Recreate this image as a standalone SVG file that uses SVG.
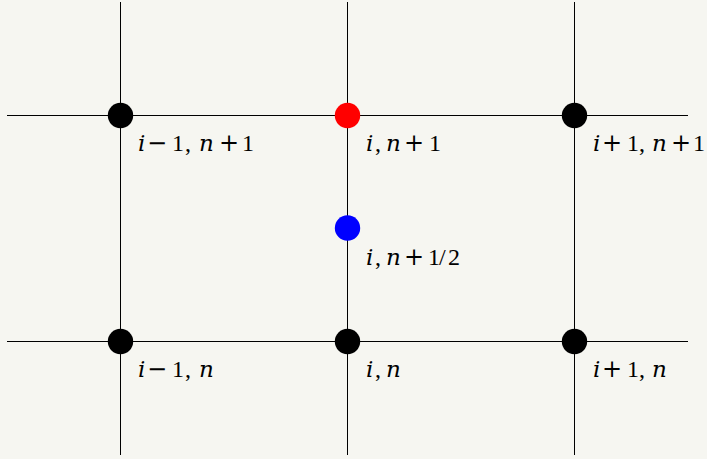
<svg xmlns="http://www.w3.org/2000/svg" width="707" height="459" viewBox="0 0 707 459">
<style>
.ln{stroke:#000;stroke-width:1;fill:none}
.dot{stroke:none}
.lbl{font-family:"Liberation Serif","DejaVu Serif",serif;font-size:24px;fill:#000}
.it{font-family:"DejaVu Serif","Liberation Serif",serif;font-style:italic;font-size:23px}
.op{font-family:"DejaVu Serif","Liberation Serif",serif;font-size:24px}
</style>
<rect width="707" height="459" fill="#f6f6f1"/>
<g id="connectors">
<line class="ln" x1="120.5" y1="2" x2="120.5" y2="455"/>
<line class="ln" x1="347.5" y1="2" x2="347.5" y2="455"/>
<line class="ln" x1="574.5" y1="2" x2="574.5" y2="455"/>
<line class="ln" x1="7" y1="115.5" x2="688" y2="115.5"/>
<line class="ln" x1="7" y1="341.5" x2="688" y2="341.5"/>
</g>
<g id="n-im1-np1"><circle class="dot" cx="120.5" cy="115.5" r="12.7" fill="#000"/><text class="lbl" y="151"><tspan class="it" x="138">i</tspan><tspan class="op" x="147">−</tspan><tspan x="172">1</tspan><tspan x="185">,</tspan><tspan class="it" x="199">n</tspan><tspan class="op" x="219">+</tspan><tspan x="242">1</tspan></text></g>
<g id="n-i-np1"><circle class="dot" cx="347.5" cy="115.5" r="12.7" fill="#ff0000"/><text class="lbl" y="151"><tspan class="it" x="366">i</tspan><tspan x="375">,</tspan><tspan class="it" x="386">n</tspan><tspan class="op" x="404">+</tspan><tspan x="429">1</tspan></text></g>
<g id="n-ip1-np1"><circle class="dot" cx="574.5" cy="115.5" r="12.7" fill="#000"/><text class="lbl" y="151"><tspan class="it" x="593">i</tspan><tspan class="op" x="602">+</tspan><tspan x="627">1</tspan><tspan x="639">,</tspan><tspan class="it" x="652">n</tspan><tspan class="op" x="671">+</tspan><tspan x="693">1</tspan></text></g>
<g id="n-i-nh"><circle class="dot" cx="347.5" cy="228" r="12.7" fill="#0000ff"/><text class="lbl" y="265"><tspan class="it" x="366">i</tspan><tspan x="375">,</tspan><tspan class="it" x="386">n</tspan><tspan class="op" x="404">+</tspan><tspan x="428">1</tspan><tspan x="439">/</tspan><tspan x="448">2</tspan></text></g>
<g id="n-im1-n"><circle class="dot" cx="120.5" cy="341.5" r="12.7" fill="#000"/><text class="lbl" y="377"><tspan class="it" x="138">i</tspan><tspan class="op" x="147">−</tspan><tspan x="172">1</tspan><tspan x="185">,</tspan><tspan class="it" x="199">n</tspan></text></g>
<g id="n-i-n"><circle class="dot" cx="347.5" cy="341.5" r="12.7" fill="#000"/><text class="lbl" y="377"><tspan class="it" x="366">i</tspan><tspan x="375">,</tspan><tspan class="it" x="386">n</tspan></text></g>
<g id="n-ip1-n"><circle class="dot" cx="574.5" cy="341.5" r="12.7" fill="#000"/><text class="lbl" y="377"><tspan class="it" x="593">i</tspan><tspan class="op" x="602">+</tspan><tspan x="627">1</tspan><tspan x="639">,</tspan><tspan class="it" x="652">n</tspan></text></g>
</svg>
